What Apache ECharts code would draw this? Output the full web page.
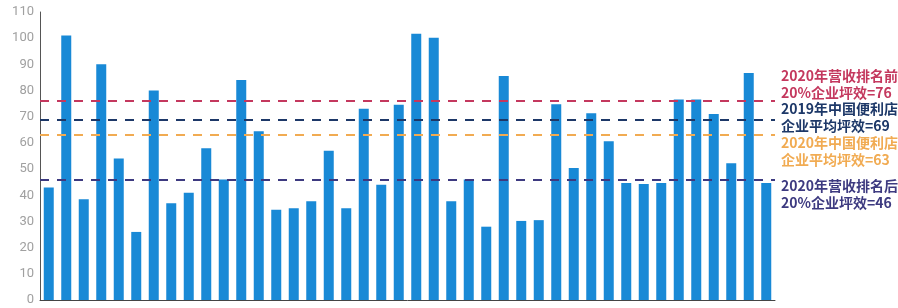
<!DOCTYPE html>
<html>
<head>
<meta charset="utf-8">
<script src="https://cdn.jsdelivr.net/npm/echarts@6/dist/echarts.min.js"></script>
<style>
  html, body { margin: 0; padding: 0; background: #fff; }
  #chart { width: 898px; height: 308px; }
</style>
</head>
<body>
<div id="chart"></div>
<script>
// 门店坪效（每根柱子一家企业）
const stores = Array.from({ length: 42 }, (_, i) => 'S' + (i + 1));
const values = [
  43, 101, 38.5, 90, 54, 26, 80, 37, 41, 58,
  46, 84, 64.5, 34.5, 35, 37.7, 57, 35, 73, 44,
  74.6, 101.7, 100.2, 37.7, 46, 28, 85.6, 30.2, 30.5, 74.8,
  50.4, 71.3, 60.6, 44.7, 44.3, 44.7, 76.6, 76.6, 71, 52.2,
  86.7, 44.7
];
// 参考线
const refValues = [76, 69, 63, 46];
const refLabels = [
  '2020年营收排名前\n20%企业坪效=76',
  '2019年中国便利店\n企业平均坪效=69',
  '2020年中国便利店\n企业平均坪效=63',
  '2020年营收排名后\n20%企业坪效=46'
];
const refColors = ['#c4385e', '#1d3868', '#f1ab52', '#3d3a80'];
const refOffsets = [-17, -2, 16, 15];

let myChart = echarts.init(document.getElementById('chart'));

let option = {
  animation: false,
  grid: { left: 40, right: 123, top: 12, bottom: 8 },
  xAxis: {
    type: 'category',
    data: stores,
    axisLine: { lineStyle: { color: '#444', width: 1 } },
    axisTick: { show: false },
    axisLabel: { show: false },
  },
  yAxis: {
    type: 'value',
    min: 0,
    max: 110,
    interval: 10,
    axisLine: { show: true, lineStyle: { color: '#555', width: 1 } },
    axisTick: { show: false },
    splitLine: { show: false },
    axisLabel: { color: '#a0a0a0', fontSize: 13, margin: 6, fontFamily: 'Roboto' },
  },
  series: [
    {
      type: 'bar',
      data: values,
      barWidth: 10,
      itemStyle: { color: '#1889d6' },
      markLine: {
        silent: true,
        symbol: 'none',
        data: refValues.map((v, i) => ({
          yAxis: v,
          lineStyle: { color: refColors[i], type: [9, 8], width: 2.2 },
          label: {
            show: true,
            position: 'end',
            distance: 6,
            offset: [0, refOffsets[i]],
            formatter: refLabels[i],
            color: refColors[i],
            fontSize: 14,
            fontWeight: 'bold',
            lineHeight: 17,
            fontFamily: 'Noto Sans CJK SC',
            align: 'left',
          },
        })),
      },
    },
  ],
};
myChart.setOption(option);
</script>
</body>
</html>
